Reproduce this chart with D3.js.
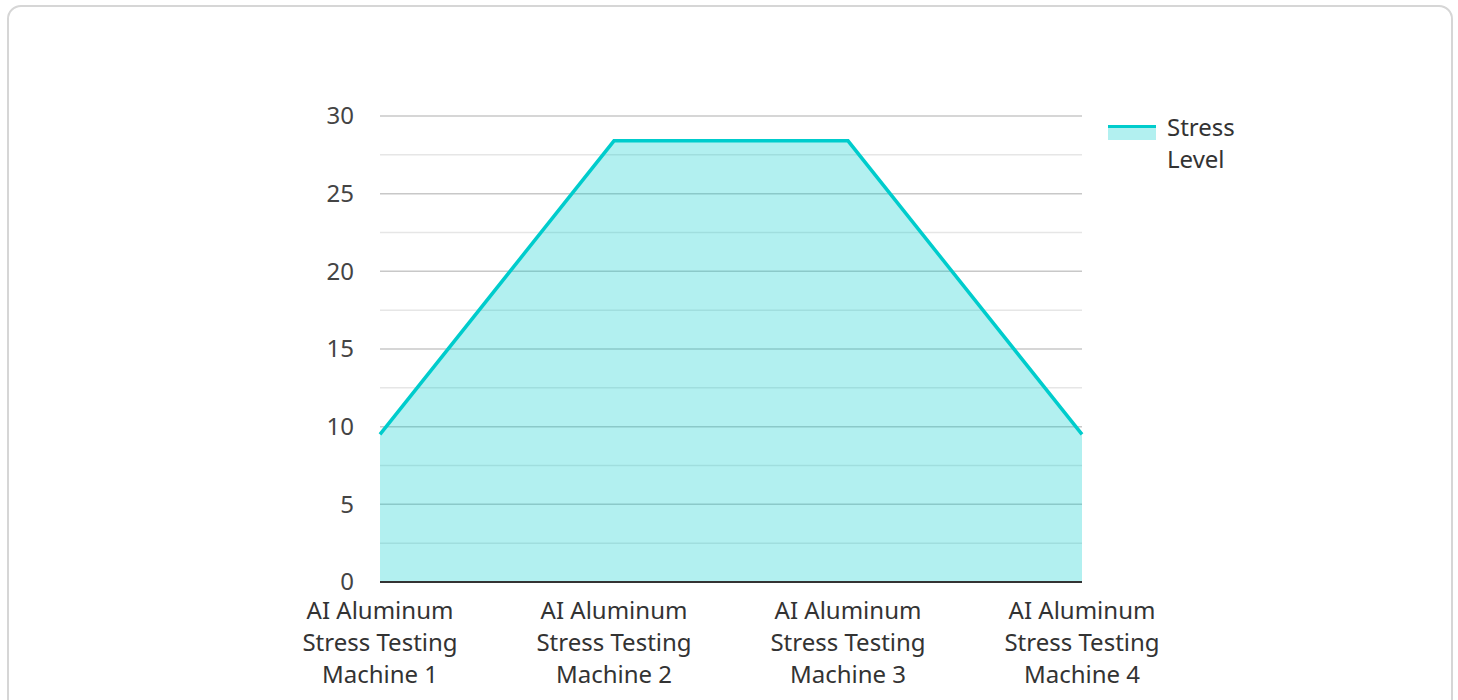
<!DOCTYPE html>
<html>
<head>
<meta charset="utf-8">
<script src="https://cdn.jsdelivr.net/npm/d3@7"></script>
<style>
  body { margin: 0; background: #fff; font-family: "Noto Sans", "Open Sans", sans-serif; }
  .card {
    position: absolute; left: 7px; top: 5px; width: 1446px; height: 720px;
    border: 2px solid #d6d6d6; border-radius: 14px; box-sizing: border-box;
  }
  svg { position: absolute; left: 0; top: 0; }
</style>
</head>
<body>
<div class="card"></div>
<svg id="chart" width="1458" height="700"></svg>
<script>
// chart data
const categories = [
  "AI Aluminum Stress Testing Machine 1",
  "AI Aluminum Stress Testing Machine 2",
  "AI Aluminum Stress Testing Machine 3",
  "AI Aluminum Stress Testing Machine 4"
]
const stressLevel = [9.5, 28.4, 28.4, 9.5]
const yTicks = [0, 5, 10, 15, 20, 25, 30]
const seriesName = "Stress Level"

const margin = { left: 380, right: 1082, top: 116, bottom: 582 }
const teal = "#00cccc"

const svg = d3.select("#chart")

const x = d3.scalePoint()
    .domain(categories)
    .range([margin.left, margin.right])

const y = d3.scaleLinear()
    .domain([0, 30])
    .range([margin.bottom, margin.top])

// grid lines, minor every 2.5
svg.append("g")
    .selectAll("line")
    .data(d3.range(0, 30.01, 2.5))
    .enter().append("line")
    .attr("x1", margin.left)
    .attr("x2", margin.right)
    .attr("y1", d => y(d))
    .attr("y2", d => y(d))
    .attr("stroke", d => d % 5 === 0 ? "#c8c8c8" : "#e6e6e6")
    .attr("stroke-width", 1.5)

const data = categories.map((c, i) => ({ c, v: stressLevel[i] }))

const area = d3.area()
    .x(d => x(d.c))
    .y0(y(0))
    .y1(d => y(d.v))

const line = d3.line()
    .x(d => x(d.c))
    .y(d => y(d.v))

svg.append("path")
    .datum(data)
    .attr("d", area)
    .attr("fill", teal)
    .attr("fill-opacity", 0.3)

svg.append("path")
    .datum(data)
    .attr("d", line)
    .attr("fill", "none")
    .attr("stroke", teal)
    .attr("stroke-width", 3.5)

// y axis labels
svg.append("g")
    .selectAll("text")
    .data(yTicks)
    .enter().append("text")
    .attr("x", margin.left - 26)
    .attr("y", d => y(d))
    .attr("dy", "0.35em")
    .attr("text-anchor", "end")
    .attr("fill", "#444")
    .style("font-size", "24px")
    .text(d => d)

// x axis baseline
svg.append("line")
    .attr("x1", margin.left)
    .attr("x2", margin.right)
    .attr("y1", y(0))
    .attr("y2", y(0))
    .attr("stroke", "#333")
    .attr("stroke-width", 2)

// x axis labels, wrapped in three lines
const wrap = c => {
    const m = c.match(/^(AI Aluminum) (Stress Testing) (.*)$/)
    return m ? [m[1], m[2], m[3]] : [c]
}
const xLabels = svg.append("g")
    .selectAll("text")
    .data(categories)
    .enter().append("text")
    .attr("text-anchor", "middle")
    .attr("fill", "#333")
    .style("font-size", "24px")

xLabels.selectAll("tspan")
    .data(d => wrap(d).map(t => ({ t, c: d })))
    .enter().append("tspan")
    .attr("x", d => x(d.c))
    .attr("y", (d, i) => 619 + i * 32)
    .text(d => d.t)

// legend
const legend = svg.append("g").attr("transform", "translate(1108,125)")
legend.append("rect")
    .attr("width", 48).attr("height", 15)
    .attr("fill", teal).attr("fill-opacity", 0.3)
legend.append("line")
    .attr("x1", 0).attr("x2", 48)
    .attr("y1", 1.5).attr("y2", 1.5)
    .attr("stroke", teal).attr("stroke-width", 3)
legend.append("text")
    .attr("fill", "#333")
    .style("font-size", "24px")
    .selectAll("tspan")
    .data(seriesName.split(" "))
    .enter().append("tspan")
    .attr("x", 59)
    .attr("y", (d, i) => 11 + i * 32)
    .text(d => d)
</script>
</body>
</html>
